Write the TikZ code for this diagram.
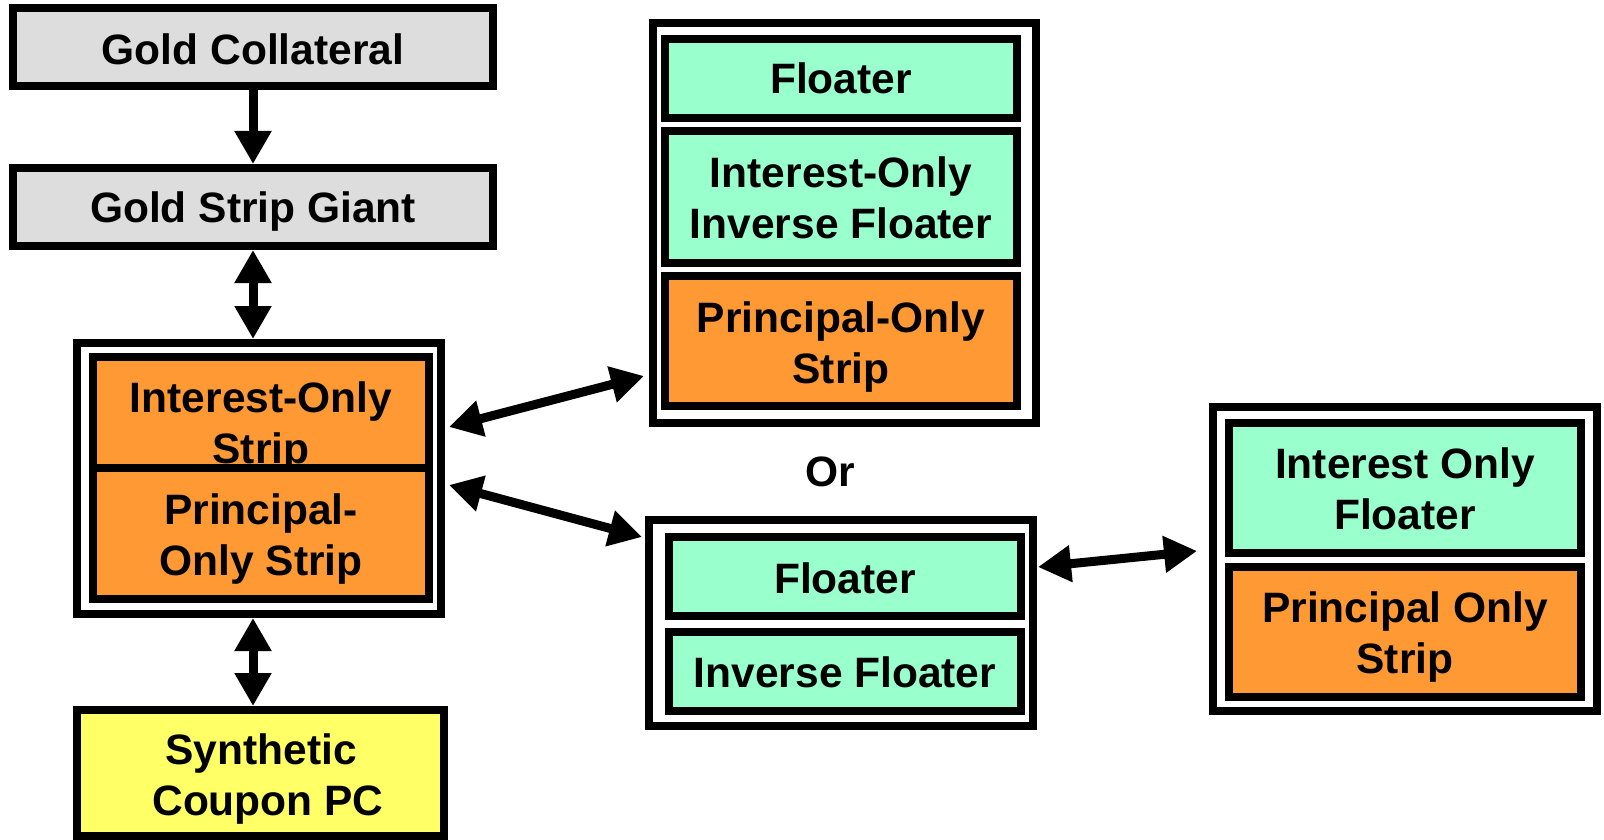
\documentclass[tikz,border=0pt]{standalone}
\usepackage{fontspec}
\setmainfont{Liberation Sans}
\usetikzlibrary{arrows.meta,calc}

\definecolor{boxgray}{HTML}{DDDDDD}
\definecolor{boxorange}{HTML}{FF9933}
\definecolor{boxgreen}{HTML}{99FFCC}
\definecolor{boxyellow}{HTML}{FFFF66}

\tikzset{
  panel/.style={draw=black, line width=8pt, inner sep=0pt, fill=white},
  cell/.style={draw=black, line width=8pt, inner sep=0pt},
  lbl/.style={font=\fontsize{42.5}{51}\selectfont\bfseries, align=center,
              inner sep=0pt, anchor=north, text=black},
  link/.style={line width=9pt, -{Triangle[length=33pt,width=35pt]}},
  dlink/.style={line width=9pt, {Triangle[length=33pt,width=35pt]}-{Triangle[length=33pt,width=35pt]}},
}

\begin{document}
\begin{tikzpicture}[x=1pt,y=-1pt]
\useasboundingbox (0,0) rectangle (1604,840);

% left column
\node[cell, fill=boxgray, minimum width=480pt, minimum height=78pt] (gc) at (253,47) {};
\node[lbl] (gct) at (253,33.6) {Gold Collateral};

\node[cell, fill=boxgray, minimum width=480pt, minimum height=78pt] (gsg) at (253,207) {};
\node[lbl] (gsgt) at (253,191.6) {Gold Strip Giant};

\node[panel, minimum width=364pt, minimum height=271pt] (lmo) at (259,478.5) {};
\node[cell, fill=boxorange, minimum width=336pt, minimum height=112pt] (lio) at (261,413) {};
\node[lbl] (liot) at (261,381.3) {Interest-Only\\Strip};
\node[cell, fill=boxorange, minimum width=336pt, minimum height=131pt] (lpo) at (261,533.5) {};
\node[lbl] (lpot) at (261,493.9) {Principal-\\Only Strip};

\node[cell, fill=boxyellow, minimum width=367pt, minimum height=126pt] (syn) at (260.5,773) {};
\node[lbl] (synt) at (261,733.6) {Synthetic\\\hspace*{14pt}Coupon PC};

% upper middle group
\node[panel, minimum width=383pt, minimum height=400pt] (tmo) at (844.5,223) {};
\node[cell, fill=boxgreen, minimum width=352pt, minimum height=79pt] (tfl) at (841,78.5) {};
\node[lbl] (tflt) at (841,62.9) {Floater};
\node[cell, fill=boxgreen, minimum width=352pt, minimum height=132pt] (tif) at (841,197) {};
\node[lbl] (tift) at (841,156.3) {Interest-Only\\Inverse Floater};
\node[cell, fill=boxorange, minimum width=352pt, minimum height=130pt] (tpo) at (841,341) {};
\node[lbl] (tpot) at (841,301.3) {Principal-Only\\Strip};

\node[lbl] (or) at (830,456.6) {Or};

% lower middle group
\node[panel, minimum width=384pt, minimum height=206pt] (bmo) at (841,623) {};
\node[cell, fill=boxgreen, minimum width=352pt, minimum height=79pt] (bfl) at (845,576.5) {};
\node[lbl] (bflt) at (845,562.9) {Floater};
\node[cell, fill=boxgreen, minimum width=352pt, minimum height=79pt] (bif) at (845,671.5) {};
\node[lbl] (bift) at (845,656.9) {Inverse Floater};

% right group
\node[panel, minimum width=384pt, minimum height=304pt] (ro) at (1405,559) {};
\node[cell, fill=boxgreen, minimum width=352pt, minimum height=130pt] (rif) at (1405,488) {};
\node[lbl] (rift) at (1405,447.1) {Interest Only\\Floater};
\node[cell, fill=boxorange, minimum width=352pt, minimum height=130pt] (rpo) at (1405,632) {};
\node[lbl] (rpot) at (1405,591.3) {Principal Only\\Strip};

% connectors
\draw[link] (gc.south) -- (gsg.north);
\draw[dlink] (gsg.south) -- (gsg.south |- lmo.north);
\draw[dlink] (gsg.south |- lmo.south) -- (gsg.south |- syn.north);

\coordinate (l1) at ($(lmo.east)+(4,-51.5)$);
\coordinate (l2) at ($(lmo.east)+(4,6.5)$);
\coordinate (t1) at ($(tmo.west)+(-5,153)$);
\coordinate (b1) at ($(bmo.west)+(-3,-86)$);
\coordinate (b2) at ($(bmo.east)+(1,-56)$);
\coordinate (r1) at ($(ro.west)+(-12,-8)$);

\draw[dlink] (l1) -- (t1);
\draw[dlink] (l2) -- (b1);
\draw[dlink] (b2) -- (r1);
\end{tikzpicture}
\end{document}
